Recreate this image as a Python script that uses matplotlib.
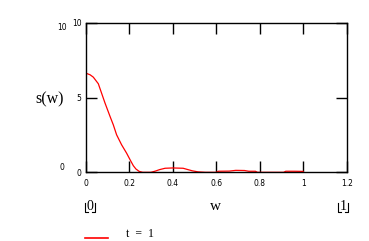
import matplotlib
matplotlib.use("Agg")
import matplotlib.pyplot as plt
from matplotlib.lines import Line2D

# Data
w = [0, 0.02, 0.035, 0.058, 0.073, 0.089, 0.112, 0.127, 0.142, 0.165, 0.188,
     0.204, 0.219, 0.231, 0.246, 0.262, 0.30, 0.32, 0.34, 0.365, 0.40, 0.448,
     0.47, 0.49, 0.516, 0.55, 0.60, 0.61, 0.66, 0.69, 0.73, 0.75, 0.78, 0.79,
     0.91, 0.92, 0.96, 1.0]
s = [6.63, 6.52, 6.36, 5.92, 5.29, 4.62, 3.73, 3.17, 2.51, 1.84, 1.28,
     0.84, 0.44, 0.22, 0.06, 0.0, 0.0, 0.08, 0.18, 0.27, 0.29, 0.27,
     0.18, 0.10, 0.03, 0.0, 0.0, 0.07, 0.08, 0.13, 0.12, 0.07, 0.07, 0.0,
     0.0, 0.07, 0.07, 0.06]
xticks = [0, 0.2, 0.4, 0.6, 0.8, 1, 1.2]
xticklabels = ["0", "0.2", "0.4", "0.6", "0.8", "1", "1.2"]
yticks = [0, 5, 10]
yticklabels = ["0", "5", "10"]

W, H = 369, 241
fig = plt.figure(figsize=(W / 100, H / 100), dpi=100)
ax = fig.add_axes([85.7 / W, 1 - 172.3 / H, (346.7 - 85.7) / W, (172.3 - 22.7) / H])
ax.plot(w, s, color="#ff0000", lw=0.9, clip_on=True)
ax.set_xlim(0, 1.2)
ax.set_ylim(0, 10)
for sp in ax.spines.values():
    sp.set_linewidth(1.0)
    sp.set_color("black")

ax.set_xticks(xticks)
ax.set_xticklabels(xticklabels)
ax.set_yticks(yticks)
ax.set_yticklabels(yticklabels)
ax.tick_params(axis="both", direction="in", length=8, width=1.0, labelsize=5.5,
               top=True, right=True, pad=3)
ax.tick_params(axis="x", pad=5)
for lab in ax.get_xticklabels() + ax.get_yticklabels():
    lab.set_family("DejaVu Sans")

# Mathcad-style axis labels and range markers
fs = "Liberation Serif"
fig.text(50 / W, 1 - 99 / H, "s(w)", fontsize=11.5, family=fs, ha="center", va="center")
fig.text(215 / W, 1 - 207 / H, "w", fontsize=11, family=fs, ha="center", va="center")
fig.text(62 / W, 1 - 28 / H, "10", fontsize=5.5, ha="center", va="center")
fig.text(62 / W, 1 - 168 / H, "0", fontsize=5.5, ha="center", va="center")
fig.text(89.5 / W, 1 - 206 / H, "0", fontsize=10, family=fs, ha="center", va="center")
fig.text(343 / W, 1 - 206 / H, "1", fontsize=10, family=fs, ha="center", va="center")


def corners(xc, yc, half=5):
    for sx in (-1, 1):
        xs = [xc + sx * half, xc + sx * half, xc + sx * (half - 3)]
        ys = [yc - 5, yc + 4, yc + 4]
        fig.add_artist(Line2D([x / W for x in xs], [1 - y / H for y in ys],
                              color="black", lw=0.8, transform=fig.transFigure))


corners(89.5, 208)
corners(343, 208)

# legend at the bottom edge
fig.add_artist(Line2D([85 / W, 108 / W], [1 - 238 / H, 1 - 238 / H],
                      color="#ff0000", lw=1.2, transform=fig.transFigure))
fig.text(140 / W, 1 / H, "t  =  1", fontsize=8.5, family=fs, ha="center", va="bottom")

fig.savefig("out.png", dpi=100)
